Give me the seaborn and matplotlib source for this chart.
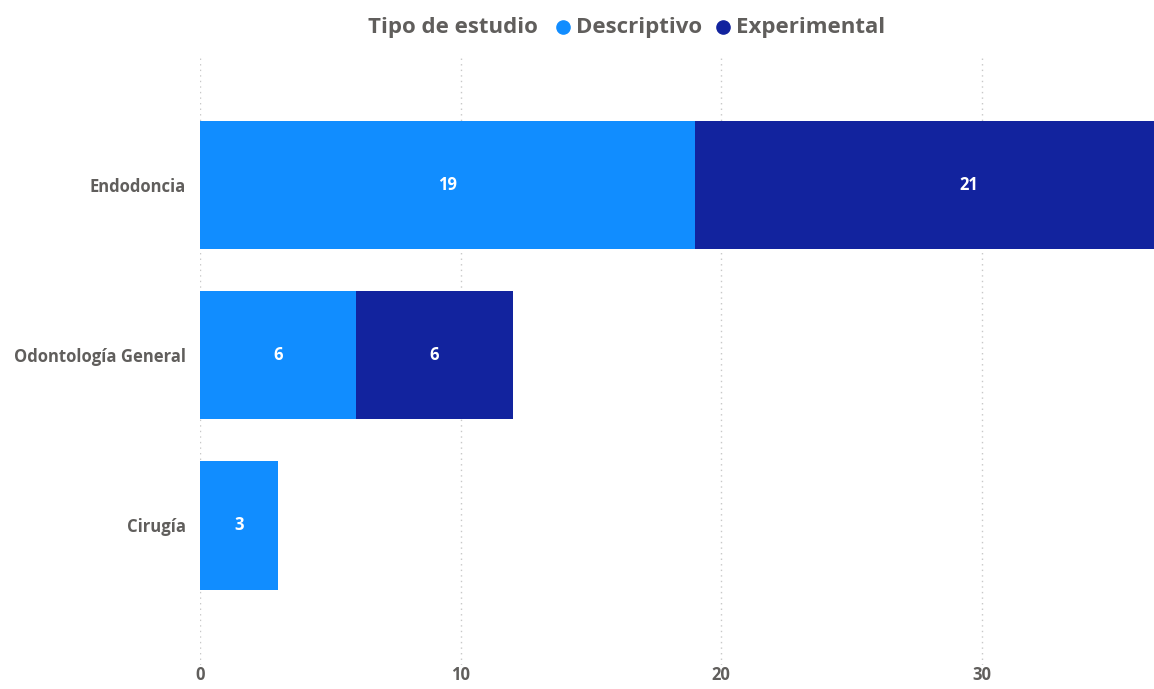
import matplotlib
matplotlib.use("Agg")
import matplotlib.pyplot as plt
from matplotlib.lines import Line2D
import seaborn as sns
import pandas as pd

# datos
areas = ["Endodoncia", "Odontología General", "Cirugía"]
descriptivo = [19, 6, 3]
experimental = [21, 6, 0]

c_desc = "#118DFF"
c_exp = "#12239E"
gris = "#605E5C"

df = pd.DataFrame({"area": areas, "Descriptivo": descriptivo, "Experimental": experimental})
df["total"] = df["Descriptivo"] + df["Experimental"]

sns.set_theme(style="white")
plt.rcParams["font.family"] = ["Open Sans", "DejaVu Sans"]

W, H = 1154, 689
fig = plt.figure(figsize=(W / 100, H / 100), dpi=100)
ax = fig.add_axes([200 / W, 24 / H, 954 / W, 610 / H])

# barras apiladas: total (experimental) detras, descriptivo delante
sns.barplot(data=df, x="total", y="area", color=c_exp, width=0.753, orient="h", ax=ax,
            saturation=1, linewidth=0)
sns.barplot(data=df, x="Descriptivo", y="area", color=c_desc, width=0.753, orient="h", ax=ax,
            saturation=1, linewidth=0)

for i, row in df.iterrows():
    if row["Descriptivo"] > 0:
        ax.text(row["Descriptivo"] / 2, i, str(row["Descriptivo"]), ha="center", va="center",
                color="white", fontsize=12, fontweight="bold")
    if row["Experimental"] > 0:
        ax.text(row["Descriptivo"] + row["Experimental"] / 2, i, str(row["Experimental"]),
                ha="center", va="center", color="white", fontsize=12, fontweight="bold")

ax.set_xlim(0, 36.6)
ax.set_ylim(2.82, -0.765)
ax.set_xticks([0, 10, 20, 30])
ax.grid(axis="x", linestyle=(0, (1, 3)), color="#C8C8C8", linewidth=1)
ax.set_axisbelow(True)
for s in ax.spines.values():
    s.set_visible(False)
ax.set_xlabel("")
ax.set_ylabel("")
ax.tick_params(axis="y", length=0, labelsize=12, labelcolor=gris, pad=10)
ax.tick_params(axis="x", length=0, labelsize=12, labelcolor=gris, pad=1)
for lbl in ax.get_xticklabels() + ax.get_yticklabels():
    lbl.set_fontweight("bold")

# leyenda superior
ly = 1 - 27 / H
fig.text(368 / W, ly, "Tipo de estudio", ha="left", va="center", fontsize=16,
         fontweight="bold", color=gris)
for xd, xt, lab, col in [(563, 576, "Descriptivo", c_desc), (723, 736, "Experimental", c_exp)]:
    fig.add_artist(Line2D([xd / W], [ly], marker="o", markersize=9.5, linestyle="",
                          color=col, transform=fig.transFigure))
    fig.text(xt / W, ly, lab, ha="left", va="center", fontsize=16, fontweight="bold", color=gris)

fig.savefig("out.png", dpi=100)
